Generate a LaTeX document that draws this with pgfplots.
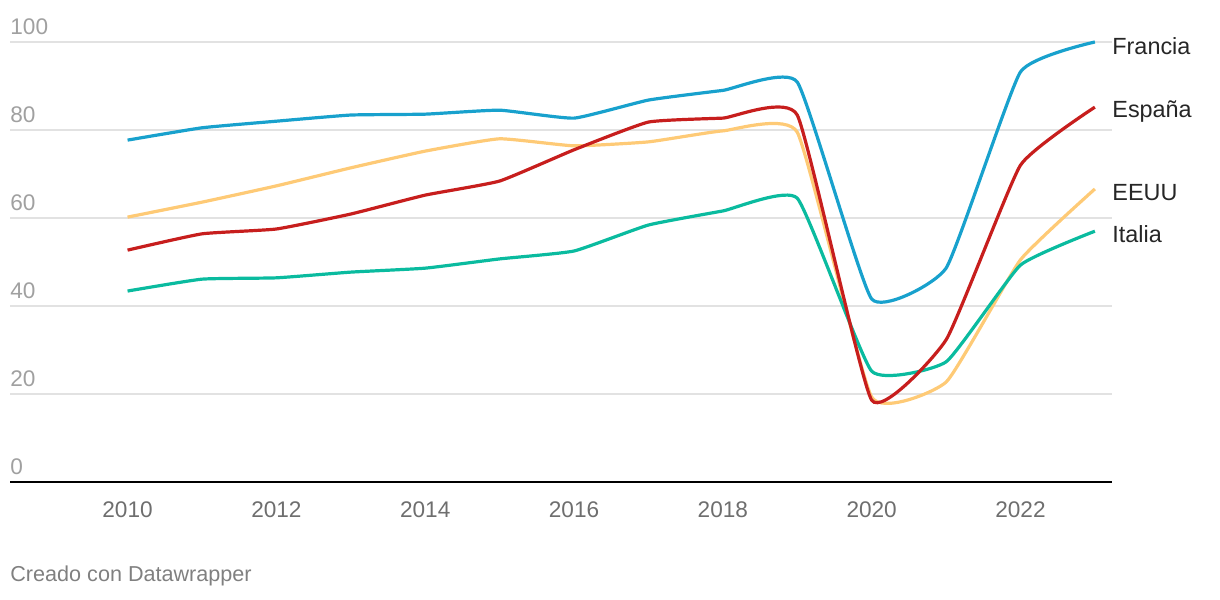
\documentclass[border=0pt]{standalone}
\usepackage{fontspec}
\setmainfont{Liberation Sans}
\usepackage{pgfplots}
\pgfplotsset{compat=1.18}
\definecolor{cfr}{HTML}{18A1CD}
\definecolor{ces}{HTML}{C71E1D}
\definecolor{cus}{HTML}{FECA76}
\definecolor{cit}{HTML}{0ABB9F}
\definecolor{gridc}{HTML}{E2E2E2}
\definecolor{ytc}{HTML}{A0A0A0}
\definecolor{xtc}{HTML}{6E6E6E}
\begin{document}
\begin{tikzpicture}
\path[use as bounding box] (0,0) rectangle (610bp,300bp);
\begin{axis}[
  at={(5bp,59bp)}, anchor=south west,
  scale only axis, width=551bp, height=220bp,
  xmin=2008.42, xmax=2023.23, ymin=0, ymax=100,
  clip=false,
  separate axis lines,
  axis x line*=bottom, axis y line*=left,
  x axis line style={-, black, line width=1bp},
  y axis line style={draw=none},
  major tick length=0pt,
  xtick={2010,2012,...,2022},
  ytick={0,20,...,100},
  ymajorgrids, grid style={gridc, line width=0.6bp},
  /pgf/number format/assume math mode=true,
  /pgf/number format/1000 sep={},
  xticklabel style={font=\fontsize{11.3bp}{13bp}\selectfont, text=xtc, yshift=-6.5bp},
  yticklabel style={font=\fontsize{11.3bp}{13bp}\selectfont, text=ytc, anchor=south west, inner sep=0pt, yshift=3.5bp},
  every axis plot/.append style={line width=1.6bp, smooth, tension=0.25, no markers},
]
\addplot[cus] coordinates {(2010,60.2)(2011,63.6)(2012,67.3)(2013,71.4)(2014,75.2)(2015,78.0)(2016,76.4)(2017,77.3)(2018,79.8)(2019,79.5)(2020,19.3)(2021,22.7)(2022,50.5)(2023,66.6)};
\addplot[cit] coordinates {(2010,43.4)(2011,46.1)(2012,46.4)(2013,47.7)(2014,48.6)(2015,50.7)(2016,52.5)(2017,58.4)(2018,61.6)(2019,64.5)(2020,25.2)(2021,27.3)(2022,49.3)(2023,57.0)};
\addplot[cfr] coordinates {(2010,77.7)(2011,80.5)(2012,82.0)(2013,83.4)(2014,83.6)(2015,84.5)(2016,82.7)(2017,86.8)(2018,89.0)(2019,90.9)(2020,41.6)(2021,48.6)(2022,93.2)(2023,100)};
\addplot[ces] coordinates {(2010,52.7)(2011,56.4)(2012,57.5)(2013,60.9)(2014,65.2)(2015,68.4)(2016,75.5)(2017,81.8)(2018,82.7)(2019,83.4)(2020,18.6)(2021,32.3)(2022,72.0)(2023,85.2)};
\begin{scope}[every node/.style={anchor=west, inner sep=0pt, font=\fontsize{11.7bp}{13bp}\selectfont, text=black!85}]
\node at (axis cs:2023.23,99.1) {Francia};
\node at (axis cs:2023.23,84.1) {España};
\node at (axis cs:2023.23,65.7) {EEUU};
\node at (axis cs:2023.23,56.4) {Italia};
\end{scope}
\end{axis}
\node[anchor=west, inner sep=0pt, font=\fontsize{10.8bp}{12bp}\selectfont, text=black!50] at (5bp,12bp) {Creado con Datawrapper};
\end{tikzpicture}
\end{document}
